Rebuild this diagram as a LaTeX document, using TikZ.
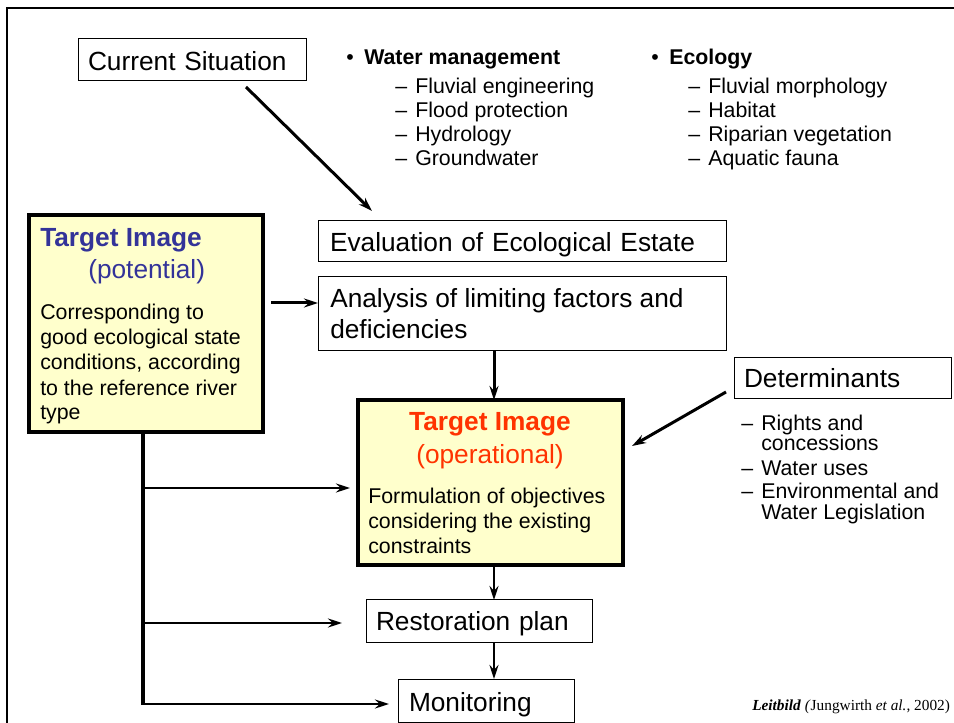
\documentclass[tikz,border=0pt]{standalone}
\usepackage{fontspec}
\setmainfont{Liberation Sans}
\newfontfamily\timesfam{Liberation Serif}
\usetikzlibrary{arrows.meta,calc}
\definecolor{tiyellow}{HTML}{FFFFCC}
\definecolor{tiblue}{HTML}{333399}
\definecolor{tired}{HTML}{FF3300}
\newcommand\fsLarge{\fontsize{19.7pt}{24pt}\selectfont}
\newcommand\fsText{\fontsize{16pt}{18pt}\selectfont}
\tikzset{
  box/.style={draw, line width=0.75pt, inner xsep=7.5pt, inner ysep=0pt, outer sep=0pt, align=left, anchor=north west, font=\fsLarge},
  ybox/.style={draw, line width=3pt, fill=tiyellow, inner sep=0pt, outer sep=0pt, anchor=north west},
  txt/.style={inner sep=0pt, anchor=base west, font=\fsText},
  big/.style={inner sep=0pt, anchor=base west, font=\fsLarge},
  arr/.style={-{Stealth[length=10.5pt,width=6.75pt,inset=3.5pt]}, line width=2.1pt},
  darr/.style={-{Stealth[length=10.5pt,width=6.75pt,inset=3.5pt]}, line width=2.25pt},
}
\begin{document}
\begin{tikzpicture}[x=0.75pt,y=-0.75pt]
\useasboundingbox (0,0) rectangle (954,723);
% frame
\draw[line width=2pt] (7,723) -- (7,8) -- (954,8);

% boxes
\node[box, text width=156pt, text height=24pt, text depth=7.5pt] (cur) at (78,39) {Current Situation};
\node[box, inner xsep=9pt, text width=288pt, text height=23.25pt, text depth=7.5pt] (eval) at (318,221) {Evaluation of Ecological Estate};
\node[box, minimum width=306pt, minimum height=55.5pt] (anal) at (318,277) {};
\node[big] (anal1) at (330,308) {Analysis of limiting factors and};
\node[big] (anal2) at (330,339) {deficiencies};
\node[box, text width=147.75pt, text height=22.5pt, text depth=8.25pt] (det) at (734,358) {Determinants};
\node[box, text width=154.5pt, text height=22.5pt, text depth=9pt] (rest) at (366,600) {Restoration plan};
\node[box, inner xsep=8.25pt, text width=115.5pt, text height=24pt, text depth=8.25pt] (mon) at (398,679) {Monitoring};

% potential box
\node[ybox, minimum width=175.5pt, minimum height=162.75pt] (pot) at (29,215) {};
\node[big, font=\fsLarge\bfseries, text=tiblue] (pot1) at (40,247) {Target Image};
\node[big, text=tiblue] (pot2) at (88,279) {(potential)};
\node[txt] (pot3) at (40,320) {Corresponding to};
\node[txt] (pot4) at (40,345) {good ecological state};
\node[txt] (pot5) at (40,370) {conditions, according};
\node[txt] (pot6) at (40,396) {to the reference river};
\node[txt] (pot7) at (40,420) {type};

% operational box
\node[ybox, minimum width=198.75pt, minimum height=123.75pt] (op) at (358,400) {};
\node[big, anchor=base, font=\fsLarge\bfseries, text=tired] (op1) at (490,431) {Target Image};
\node[big, anchor=base, text=tired] (op2) at (490,464) {(operational)};
\node[txt] (op3) at (368,504) {Formulation of objectives};
\node[txt] (op4) at (368,529) {considering the existing};
\node[txt] (op5) at (368,554) {constraints};

% lists
\node[txt] (wmb) at (346,65) {•};
\node[txt, font=\fsText\bfseries] (wm) at (364,65) {Water management};
\node[txt] (wm1d) at (395,94) {–};
\node[txt] (wm1) at (415,94) {Fluvial engineering};
\node[txt] (wm2d) at (395,118) {–};
\node[txt] (wm2) at (415,118) {Flood protection};
\node[txt] (wm3d) at (395,142) {–};
\node[txt] (wm3) at (415,142) {Hydrology};
\node[txt] (wm4d) at (395,166) {–};
\node[txt] (wm4) at (415,166) {Groundwater};

\node[txt] (ecb) at (651,65) {•};
\node[txt, font=\fsText\bfseries] (ec) at (669,65) {Ecology};
\node[txt] (ec1d) at (688,94) {–};
\node[txt] (ec1) at (708,94) {Fluvial morphology};
\node[txt] (ec2d) at (688,118) {–};
\node[txt] (ec2) at (708,118) {Habitat};
\node[txt] (ec3d) at (688,142) {–};
\node[txt] (ec3) at (708,142) {Riparian vegetation};
\node[txt] (ec4d) at (688,166) {–};
\node[txt] (ec4) at (708,166) {Aquatic fauna};

\node[txt] (dt1d) at (741,431) {–};
\node[txt] (dt1) at (761,431) {Rights and};
\node[txt] (dt1b) at (761,451) {concessions};
\node[txt] (dt2d) at (741,476) {–};
\node[txt] (dt2) at (761,476) {Water uses};
\node[txt] (dt3d) at (741,499) {–};
\node[txt] (dt3) at (761,499) {Environmental and};
\node[txt] (dt3b) at (761,520) {Water Legislation};

\node[inner sep=0pt, anchor=base west, font=\timesfam\fontsize{11.5pt}{13pt}\selectfont] (cite) at (752,710)
  {\textbf{\textit{Leitbild}} \textit{(}Jungwirth \textit{et al.}, 2002)};

% connectors
\coordinate (c1) at ($(cur.south west)+(168,6)$);
\coordinate (c2) at ($(eval.north west)+(54,-10)$);
\draw[darr] (c1) -- (c2);

\coordinate (p1) at ($(pot.north east)+(8,88)$);
\draw[darr] (p1) -- (p1 -| anal.west);

\coordinate (vx) at (494,0);
\draw[darr] (anal.south -| vx) -- (op.north -| vx);
\draw[arr] (op.south -| vx) -- (rest.north -| vx);
\draw[arr] (rest.south -| vx) -- (mon.north -| vx);

\coordinate (d1) at ($(det.south west)+(-8,-7)$);
\coordinate (d2) at ($(op.north east)+(9,46)$);
\draw[darr] (d1) -- (d2);

\coordinate (t0) at (143,432);
\coordinate (t3) at (143,704);
\draw[line width=3.5pt] (t0) -- (t3);
\coordinate (t1) at (143,488);
\coordinate (t2) at (143,623);
\draw[arr, shorten >=6pt] (t1) -- (t1 -| op.west);
\draw[arr, shorten >=18pt] (t2) -- (t2 -| rest.west);
\draw[arr, shorten >=6.75pt] ($(t3)+(-1.75,0)$) -- (t3 -| mon.west);
\end{tikzpicture}
\end{document}
